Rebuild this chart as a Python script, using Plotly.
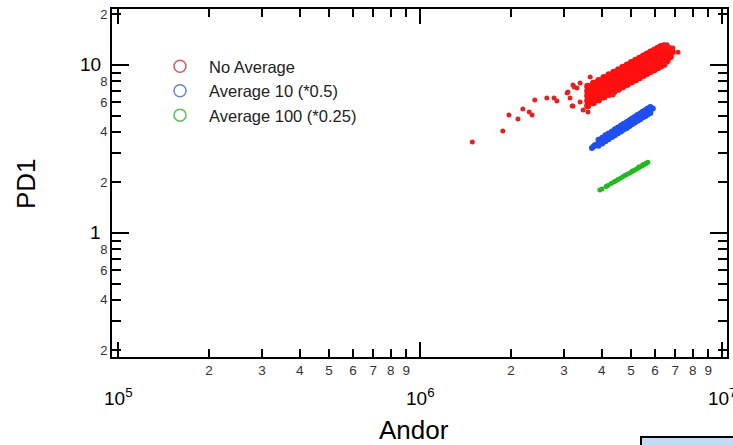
import math
import plotly.graph_objects as go

# ---------------- data (Andor counts vs PD1) ----------------
# No Average: dense core cluster (main columns)
red_core_x = (
    [3.59e6] * 5 + [3.75e6] * 5 + [3.90e6] * 5 + [4.06e6] * 5 + [4.22e6] * 5 +
    [4.38e6] * 5 + [4.54e6] * 5 + [4.69e6] * 5 + [4.85e6] * 5 + [5.01e6] * 5 +
    [5.17e6] * 5 + [5.33e6] * 5 + [5.49e6] * 5 + [5.64e6] * 5 + [5.80e6] * 5 +
    [5.96e6] * 5 + [6.12e6] * 5 + [6.27e6] * 5 + [6.43e6] * 5 + [6.58e6] * 4 +
    [6.74e6] * 3 + [6.85e6]
)
red_core_y = [
    5.71, 6.13, 6.55, 7.00, 7.46,
    5.95, 6.39, 6.83, 7.30, 7.77,
    6.19, 6.65, 7.11, 7.60, 8.09,
    6.44, 6.91, 7.39, 7.90, 8.41,
    6.68, 7.18, 7.67, 8.20, 8.73,
    6.93, 7.44, 7.95, 8.50, 9.05,
    7.17, 7.70, 8.23, 8.80, 9.37,
    7.42, 7.96, 8.51, 9.10, 9.69,
    7.66, 8.23, 8.79, 9.40, 10.01,
    7.91, 8.49, 9.07, 9.70, 10.33,
    8.15, 8.75, 9.35, 10.00, 10.65,
    8.39, 9.01, 9.63, 10.30, 10.97,
    8.64, 9.28, 9.91, 10.60, 11.29,
    8.88, 9.54, 10.19, 10.90, 11.61,
    9.13, 9.80, 10.47, 11.20, 11.93,
    9.37, 10.06, 10.75, 11.50, 12.25,
    9.62, 10.33, 11.03, 11.80, 12.57,
    9.86, 10.59, 11.31, 12.10, 12.89,
    10.11, 10.85, 11.59, 12.40, 13.00,
    10.60, 11.20, 11.90, 12.60,
    11.20, 11.90, 12.50,
    12.00,
]
# No Average: dense core cluster (in-between columns)
red_fill_x = (
    [3.67e6] * 4 + [3.82e6] * 4 + [3.98e6] * 4 + [4.14e6] * 4 + [4.30e6] * 4 +
    [4.46e6] * 4 + [4.61e6] * 4 + [4.77e6] * 4 + [4.93e6] * 4 + [5.09e6] * 4 +
    [5.25e6] * 4 + [5.41e6] * 4 + [5.56e6] * 4 + [5.72e6] * 4 + [5.88e6] * 4 +
    [6.04e6] * 4 + [6.20e6] * 4 + [6.35e6] * 4 + [6.50e6] * 3
)
red_fill_y = [
    6.04, 6.47, 6.90, 7.36,
    6.30, 6.74, 7.19, 7.67,
    6.55, 7.01, 7.48, 7.98,
    6.80, 7.29, 7.77, 8.29,
    7.06, 7.56, 8.06, 8.60,
    7.31, 7.83, 8.35, 8.91,
    7.56, 8.10, 8.64, 9.22,
    7.82, 8.37, 8.93, 9.53,
    8.07, 8.64, 9.22, 9.84,
    8.32, 8.91, 9.51, 10.15,
    8.58, 9.19, 9.79, 10.45,
    8.83, 9.46, 10.08, 10.76,
    9.08, 9.73, 10.37, 11.07,
    9.34, 10.00, 10.66, 11.38,
    9.59, 10.27, 10.95, 11.69,
    9.84, 10.54, 11.24, 12.00,
    10.10, 10.81, 11.53, 12.31,
    10.35, 11.09, 11.82, 12.62,
    10.60, 11.36, 12.11, 12.80,
    11.00, 11.60, 12.30,
]
# No Average: scattered points around the cluster
red_scatter_x = [1.49e6, 1.88e6, 1.97e6, 2.11e6, 2.19e6, 2.30e6, 2.35e6, 2.40e6,
                 2.63e6, 2.78e6, 2.84e6, 3.07e6, 3.19e6, 3.24e6,
                 3.09e6, 3.21e6, 3.31e6, 3.39e6, 3.14e6, 3.21e6, 3.39e6, 3.47e6,
                 3.60e6, 3.66e6, 4.36e6, 6.58e6, 6.88e6, 7.15e6]
red_scatter_y = [3.48, 4.05, 5.04, 4.77, 5.47, 5.25, 5.04, 6.19,
                 6.36, 6.36, 6.11, 6.81, 5.70, 7.40,
                 6.91, 7.60, 7.30, 7.81, 6.36, 5.70, 6.02, 5.40,
                 5.25, 8.49, 6.63, 13.2, 12.6, 11.9]

# Average 10 (*0.5)
blue_x = (
    [3.71e6, 3.76e6, 3.80e6] +
    [3.90e6] * 3 + [4.01e6] * 3 + [4.11e6] * 3 + [4.21e6] * 3 + [4.32e6] * 3 +
    [4.42e6] * 3 + [4.52e6] * 3 + [4.63e6] * 3 + [4.73e6] * 3 + [4.84e6] * 3 +
    [4.94e6] * 3 + [5.04e6] * 3 + [5.15e6] * 3 + [5.25e6] * 3 + [5.36e6] * 3 +
    [5.46e6] * 3 + [5.57e6] * 3 + [5.67e6] * 3 + [5.79e6] * 3 + [5.90e6]
)
blue_y = [
    3.21, 3.28, 3.34,
    3.31, 3.45, 3.59,
    3.41, 3.55, 3.69,
    3.51, 3.66, 3.81,
    3.61, 3.76, 3.91,
    3.72, 3.87, 4.02,
    3.82, 3.98, 4.14,
    3.92, 4.08, 4.24,
    4.02, 4.19, 4.36,
    4.13, 4.30, 4.47,
    4.22, 4.40, 4.58,
    4.33, 4.51, 4.69,
    4.44, 4.62, 4.80,
    4.54, 4.73, 4.92,
    4.65, 4.84, 5.03,
    4.75, 4.95, 5.15,
    4.86, 5.06, 5.26,
    4.96, 5.17, 5.38,
    5.08, 5.29, 5.50,
    5.18, 5.40, 5.62,
    5.51,
]

# Average 100 (*0.25)
green_x = [3.94e6, 4.00e6, 4.13e6, 4.19e6, 4.29e6, 4.38e6, 4.45e6, 4.52e6,
           4.61e6, 4.69e6, 4.77e6, 4.84e6, 4.93e6, 5.01e6, 5.10e6, 5.18e6,
           5.27e6, 5.35e6, 5.44e6, 5.51e6, 5.59e6, 5.68e6,
           5.05e6, 5.30e6, 5.47e6, 5.62e6]
green_y = [1.80, 1.83, 1.89, 1.92, 1.97, 2.01, 2.04, 2.08,
           2.12, 2.16, 2.20, 2.23, 2.27, 2.31, 2.35, 2.39,
           2.43, 2.47, 2.51, 2.55, 2.59, 2.64,
           2.34, 2.47, 2.55, 2.60]

series_names = ["No Average", "Average 10 (*0.5)", "Average 100 (*0.25)"]

# axis ticks
x_minor_vals = [2e5, 3e5, 4e5, 5e5, 6e5, 7e5, 8e5, 9e5,
                2e6, 3e6, 4e6, 5e6, 6e6, 7e6, 8e6, 9e6]
x_minor_text = ["2", "3", "4", "5", "6", "7", "8", "9",
                "2", "3", "4", "5", "6", "7", "8", "9"]
x_major_vals = [1e5, 1e6, 1e7]
x_major_text = ["10<sup>5</sup>", "10<sup>6</sup>", "10<sup>7</sup>"]
y_minor_vals = [0.2, 0.3, 0.4, 0.5, 0.6, 0.7, 0.8, 0.9,
                2, 3, 4, 5, 6, 7, 8, 9, 20]
y_minor_text = ["2", " ", "4", " ", "6", " ", "8", " ",
                "2", " ", "4", " ", "6", " ", "8", " ", "2"]
y_major_vals = [1, 10]
y_major_text = ["1", "10"]

# ---------------- figure ----------------
FONT = "Liberation Sans, Arial, Helvetica, sans-serif"
RED, BLUE, GREEN = "#ff1010", "#1f4ff0", "#22b822"
LEG_COLORS = ["#d65a5a", "#6585d8", "#5cbf5c"]

# plot-area geometry in pixels (for placing free text)
L, R, T, B = 112, 6, 9, 88
PW, PH = 733 - L - R, 445 - T - B


def px_x(px):
    return (px - L) / PW


def px_y(py):
    return (445 - B - py) / PH


fig = go.Figure()
fig.add_trace(go.Scatter(x=red_core_x + red_fill_x, y=red_core_y + red_fill_y,
                         mode="markers",
                         marker=dict(color=RED, size=7, line=dict(width=0)),
                         showlegend=False))
fig.add_trace(go.Scatter(x=red_scatter_x, y=red_scatter_y, mode="markers",
                         marker=dict(color="#e02424", size=5, line=dict(width=0)),
                         showlegend=False))
fig.add_trace(go.Scatter(x=blue_x, y=blue_y, mode="markers",
                         marker=dict(color=BLUE, size=6, line=dict(width=0)),
                         showlegend=False))
fig.add_trace(go.Scatter(x=green_x, y=green_y, mode="markers",
                         marker=dict(color=GREEN, size=5, line=dict(width=0)),
                         showlegend=False))
# legend entries (open circles)
for name, col in zip(series_names, LEG_COLORS):
    fig.add_trace(go.Scatter(x=[None], y=[None], mode="markers", name=name,
                             marker=dict(symbol="circle", size=12,
                                         color="rgba(0,0,0,0)",
                                         line=dict(width=1.5, color=col))))

axis_common = dict(type="log", showline=True, linecolor="black", linewidth=2,
                   mirror="allticks", ticks="inside", tickwidth=2, tickcolor="black",
                   showgrid=False, zeroline=False, automargin=False)

fig.update_xaxes(range=[4.9801, 7.0165], tickmode="array",
                 tickvals=x_minor_vals, ticktext=x_minor_text, ticklen=8,
                 tickfont=dict(family=FONT, size=13.5, color="#333"),
                 minor=dict(tickmode="array", tickvals=x_major_vals, ticklen=15,
                            tickwidth=2, tickcolor="black", ticks="inside", showgrid=False),
                 **axis_common)
fig.update_yaxes(range=[-0.738, 1.333], tickmode="array",
                 tickvals=y_minor_vals, ticktext=y_minor_text, ticklen=9,
                 tickfont=dict(family=FONT, size=13, color="#333"),
                 minor=dict(tickmode="array", tickvals=y_major_vals, ticklen=17,
                            tickwidth=2, tickcolor="black", ticks="inside", showgrid=False),
                 **axis_common)

annotations = []
for v, t in zip(x_major_vals, x_major_text):
    annotations.append(dict(x=math.log10(v), xref="x", y=0, yref="paper",
                            yanchor="top", xanchor="center", yshift=-26,
                            text=t, showarrow=False,
                            font=dict(family=FONT, size=19, color="black")))
for v, t in zip(y_major_vals, y_major_text):
    annotations.append(dict(x=0, xref="paper", y=math.log10(v), yref="y",
                            xanchor="right", yanchor="middle", xshift=-9,
                            text=t, showarrow=False,
                            font=dict(family=FONT, size=19, color="black")))
annotations.append(dict(x=px_x(26), xref="paper", y=px_y(184), yref="paper",
                        text="PD1", showarrow=False, textangle=-90,
                        xanchor="center", yanchor="middle",
                        font=dict(family=FONT, size=26, color="black")))
annotations.append(dict(x=px_x(414), xref="paper", y=px_y(430), yref="paper",
                        text="Andor", showarrow=False,
                        xanchor="center", yanchor="middle",
                        font=dict(family=FONT, size=26, color="black")))

fig.update_layout(
    width=733, height=445,
    margin=dict(l=L, r=R, t=T, b=B),
    paper_bgcolor="white", plot_bgcolor="white",
    font=dict(family=FONT, color="black"),
    annotations=annotations,
    legend=dict(x=px_x(151), y=px_y(49), xanchor="left", yanchor="top",
                bgcolor="rgba(0,0,0,0)", itemwidth=48,
                font=dict(family=FONT, size=16.5, color="#222"),
                tracegroupgap=0),
    shapes=[dict(type="rect", xref="paper", yref="paper",
                 x0=px_x(641), x1=1.05, y0=px_y(437), y1=px_y(460),
                 fillcolor="#c2dbf6", line=dict(color="black", width=2))],
)

fig.write_html("out.html",
               config={"displayModeBar": False},
               post_script="document.body.style.margin='0px';")
